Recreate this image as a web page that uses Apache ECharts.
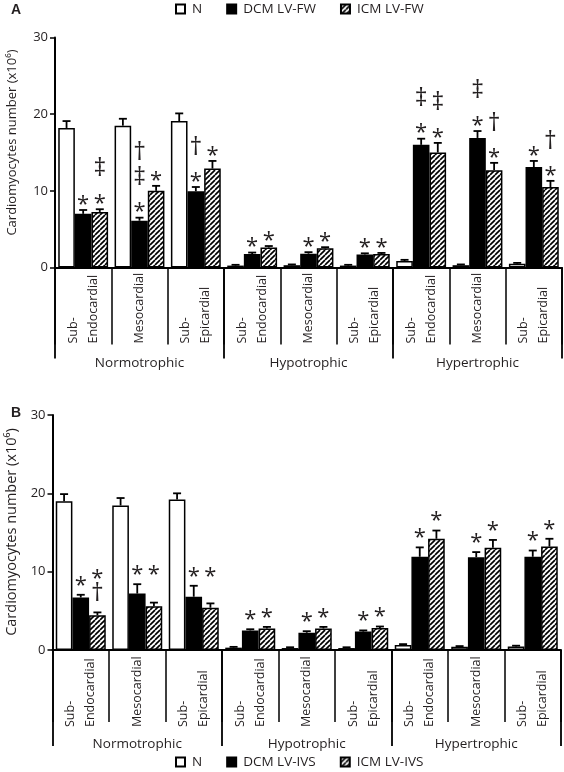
<!DOCTYPE html>
<html>
<head>
<meta charset="utf-8">
<script src="https://cdn.jsdelivr.net/npm/echarts@6/dist/echarts.min.js"></script>
<style>
  html, body { margin: 0; padding: 0; background: #fff; }
  #chart { width: 564px; height: 772px; }
</style>
</head>
<body>
<div id="chart"></div>
<script>
// ---------- data ----------
const categories = ['Sub-\nEndocardial', 'Mesocardial', 'Sub-\nEpicardial',
                    'Sub-\nEndocardial', 'Mesocardial', 'Sub-\nEpicardial',
                    'Sub-\nEndocardial', 'Mesocardial', 'Sub-\nEpicardial'];
const groups = ['Normotrophic', 'Hypotrophic', 'Hypertrophic'];
const yTicks = [0, 10, 20, 30];

// Panel A (LV-FW): mean and mean+SEM
const nA       = [18.2, 18.5, 19.1, 0.25, 0.3, 0.25, 0.85, 0.3, 0.5];
const nAErr    = [19.1, 19.4, 20.1, 0.35, 0.4, 0.35, 1.0, 0.4, 0.6];
const dcmA     = [7.0, 6.1, 9.95, 1.75, 1.8, 1.7, 16.0, 16.9, 13.1];
const dcmAErr  = [7.5, 6.5, 10.5, 1.95, 2.0, 1.85, 16.8, 17.8, 13.9];
const icmA     = [7.25, 10.0, 12.9, 2.6, 2.5, 1.75, 15.0, 12.7, 10.5];
const icmAErr  = [7.6, 10.65, 13.9, 2.8, 2.65, 1.9, 16.25, 13.65, 11.3];
// significance marks, listed bottom-to-top
const markDcmA = ['*', '*‡†', '*†', '*', '*', '*', '*‡', '*‡', '*'];
const markIcmA = ['*‡', '*', '*', '*', '*', '*', '*‡', '*†', '*†'];

// Panel B (LV-IVS)
const nB       = [19.0, 18.45, 19.2, 0.3, 0.25, 0.25, 0.65, 0.4, 0.45];
const nBErr    = [19.9, 19.4, 20.0, 0.4, 0.35, 0.35, 0.75, 0.5, 0.55];
const dcmB     = [6.7, 7.2, 6.8, 2.5, 2.2, 2.35, 11.9, 11.85, 11.9];
const dcmBErr  = [7.05, 8.4, 8.2, 2.65, 2.4, 2.5, 13.1, 12.5, 12.7];
const icmB     = [4.45, 5.6, 5.4, 2.75, 2.75, 2.8, 14.2, 13.05, 13.2];
const icmBErr  = [4.8, 6.05, 5.95, 2.95, 2.95, 3.0, 15.25, 14.05, 14.2];
const markDcmB = ['*', '*', '*', '*', '*', '*', '*', '*', '*'];
const markIcmB = ['†*', '*', '*', '*', '*', '*', '*', '*', '*'];
// ICM marks that sit on the DCM mark level (panel B)
const icmBSharesDcmLevel = [false, true, true, false, false, false, false, false, false];

// ---------- styling ----------
const FONT = '"Open Sans", "Noto Sans", sans-serif';
const TXT = '#231f20';
const BAR_FRAC = 0.295;

function hatch() {
  const c = document.createElement('canvas');
  const s = 5;
  c.width = s; c.height = s;
  const g = c.getContext('2d');
  g.fillStyle = '#fff'; g.fillRect(0, 0, s, s);
  g.strokeStyle = '#000'; g.lineWidth = 1.7;
  for (const o of [-s, 0, s]) {
    g.beginPath(); g.moveTo(o, s); g.lineTo(o + s, 0); g.stroke();
  }
  return { image: c, repeat: 'repeat' };
}
const HATCH = hatch();

function errSeries(name, xi, yi, k, means, errs, marks, baseGap, levelRef) {
  return {
    type: 'custom', name: name + ' err', xAxisIndex: xi, yAxisIndex: yi,
    clip: false, silent: true, z: 5,
    data: means.map((m, i) => [i, errs[i], m]),
    renderItem: function (params, api) {
      const i = api.value(0), err = api.value(1), mean = api.value(2);
      const band = api.size([1, 0])[0];
      const dx = (k - 1) * band * BAR_FRAC;
      const pT = api.coord([i, err]);
      const pM = api.coord([i, mean]);
      const x = pT[0] + dx;
      const ch = [
        { type: 'line', shape: { x1: x, y1: pM[1], x2: x, y2: pT[1] }, style: { stroke: '#000', lineWidth: 1.8 } },
        { type: 'line', shape: { x1: x - 4, y1: pT[1], x2: x + 4, y2: pT[1] }, style: { stroke: '#000', lineWidth: 1.8 } }
      ];
      if (marks) {
        let base = pT[1];
        if (levelRef && levelRef.flags[i]) base = api.coord([i, levelRef.errs[i]])[1];
        const syms = Array.from(marks[i] || '');
        let bottom = base - baseGap;
        syms.forEach((s) => {
          const h = s === '*' ? 10 : (s === '‡' ? 22 : 20);
          const cy = bottom - h / 2;
          ch.push({
            type: 'text', x: x, y: cy + (s === '*' ? 4.5 : 0),
            style: {
              text: s, fill: TXT, align: 'center', verticalAlign: 'middle',
              font: s === '*' ? ('22px ' + FONT) : ('25px ' + FONT)
            }
          });
          bottom = bottom - h - (s === '*' ? 14 : 4);
        });
      }
      return { type: 'group', children: ch };
    }
  };
}

function barSeries(name, xi, yi, data, color, last) {
  const s = {
    type: 'bar', name: name, xAxisIndex: xi, yAxisIndex: yi, data: data,
    barWidth: (BAR_FRAC * 100) + '%',
    itemStyle: { color: color, borderColor: '#000', borderWidth: 1.5 },
    emphasis: { disabled: true }
  };
  if (last) s.barGap = '0%';
  return s;
}

function catAxes(gridIndex, labelMargin, shortTick, longTick, groupMargin) {
  return [
    {
      gridIndex: gridIndex, type: 'category', data: categories, position: 'bottom',
      axisLine: { show: true, lineStyle: { color: '#000', width: 2 } },
      axisTick: { show: true, interval: 0, length: shortTick, lineStyle: { color: '#000', width: 1.5 } },
      axisLabel: {
        interval: 0, rotate: 90, align: 'left', verticalAlign: 'middle', margin: labelMargin,
        lineHeight: 20, fontSize: 12.5, fontFamily: FONT, color: TXT
      }
    },
    {
      gridIndex: gridIndex, type: 'category', data: groups, position: 'bottom',
      axisLine: { show: false },
      axisTick: { show: true, interval: 0, length: longTick, lineStyle: { color: '#000', width: 1.8 } },
      axisLabel: { interval: 0, margin: groupMargin, fontSize: 13.5, fontFamily: FONT, color: TXT }
    }
  ];
}

function valAxis(gridIndex) {
  return {
    gridIndex: gridIndex, type: 'value', min: yTicks[0], max: yTicks[yTicks.length - 1], interval: 10,
    axisLine: { show: true, lineStyle: { color: '#000', width: 2 } },
    axisTick: { show: true, length: 5, lineStyle: { color: '#000', width: 1.5 } },
    splitLine: { show: false },
    axisLabel: { margin: 7, fontSize: 13, fontFamily: FONT, color: TXT }
  };
}

const legendBase = {
  left: 175, padding: 0, itemWidth: 9, itemHeight: 9, itemGap: 24, icon: 'rect', selectedMode: false,
  textStyle: { fontSize: 13.5, fontFamily: FONT, color: TXT, padding: [0, 0, 0, 2] }
};

const option = {
  animation: false,
  backgroundColor: '#fff',
  grid: [
    { left: 55, top: 37.5, width: 507, height: 230 },
    { left: 52.5, top: 415, width: 508.5, height: 235 }
  ],
  xAxis: [].concat(catAxes(0, 76, 77, 91, 89), catAxes(1, 77, 72, 96, 87)),
  yAxis: [valAxis(0), valAxis(1)],
  legend: [
    Object.assign({}, legendBase, { top: 2, data: ['N', 'DCM LV-FW', 'ICM LV-FW'] }),
    Object.assign({}, legendBase, { top: 755, data: ['N', 'DCM LV-IVS', 'ICM LV-IVS'] })
  ],
  graphic: [
    { type: 'text', left: 11, top: 3, style: { text: 'A', font: 'bold 14px "Liberation Sans", Arial, sans-serif', fill: TXT } },
    { type: 'text', left: 11, top: 406, style: { text: 'B', font: 'bold 14px "Liberation Sans", Arial, sans-serif', fill: TXT } },
    { type: 'text', x: 12, y: 142.5, rotation: Math.PI / 2,
      style: { text: 'Cardiomyocytes number (x10⁶)', font: '13px ' + FONT, fill: TXT, align: 'center', verticalAlign: 'middle' } },
    { type: 'text', x: 12, y: 532, rotation: Math.PI / 2,
      style: { text: 'Cardiomyocytes number (x10⁶)', font: '14.5px ' + FONT, fill: TXT, align: 'center', verticalAlign: 'middle' } }
  ],
  series: [
    barSeries('N', 0, 0, nA, '#fff'),
    barSeries('DCM LV-FW', 0, 0, dcmA, '#000'),
    barSeries('ICM LV-FW', 0, 0, icmA, HATCH, true),
    errSeries('N', 0, 0, 0, nA, nAErr, null, 0),
    errSeries('DCM LV-FW', 0, 0, 1, dcmA, dcmAErr, markDcmA, 5),
    errSeries('ICM LV-FW', 0, 0, 2, icmA, icmAErr, markIcmA, 5),

    barSeries('N', 2, 1, nB, '#fff'),
    barSeries('DCM LV-IVS', 2, 1, dcmB, '#000'),
    barSeries('ICM LV-IVS', 2, 1, icmB, HATCH, true),
    errSeries('N', 2, 1, 0, nB, nBErr, null, 0),
    errSeries('DCM LV-IVS', 2, 1, 1, dcmB, dcmBErr, markDcmB, 9),
    errSeries('ICM LV-IVS', 2, 1, 2, icmB, icmBErr, markIcmB, 9, { flags: icmBSharesDcmLevel, errs: dcmBErr })
  ]
};

const chart = echarts.init(document.getElementById('chart'), null, { renderer: 'canvas' });
chart.setOption(option);
</script>
</body>
</html>
